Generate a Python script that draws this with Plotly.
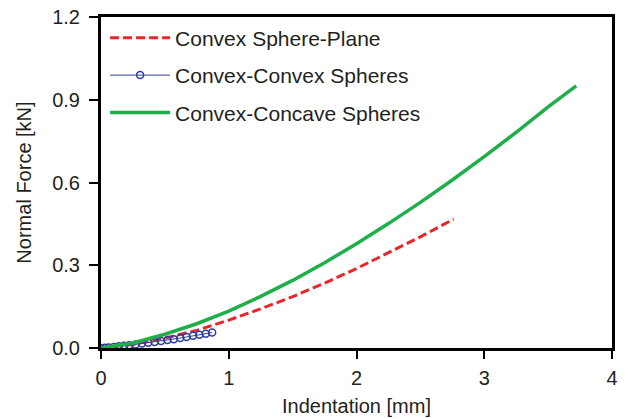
import plotly.graph_objects as go

# Convex sphere-plane (red dashed)
sp_x = [0.0, 0.25, 0.5, 0.75, 1.0, 1.25, 1.5, 1.75, 2.0, 2.25, 2.5, 2.76]
sp_y = [0.0, 0.013, 0.036, 0.064, 0.101, 0.142, 0.186, 0.235, 0.288, 0.344, 0.403, 0.467]

# Convex-convex spheres (blue open circles)
cc_x = [0.0, 0.03, 0.06, 0.1, 0.14, 0.18, 0.22, 0.27, 0.32, 0.37, 0.42, 0.47,
        0.52, 0.57, 0.62, 0.67, 0.72, 0.77, 0.82, 0.87]
cc_y = [0.0, 0.001, 0.002, 0.004, 0.006, 0.008, 0.010, 0.013, 0.016, 0.019, 0.022, 0.025,
        0.029, 0.032, 0.036, 0.040, 0.044, 0.048, 0.052, 0.056]

# Convex-concave spheres (green)
cv_x = [0.0, 0.25, 0.5, 0.75, 1.0, 1.25, 1.5, 1.75, 2.0, 2.25, 2.5, 2.75, 3.0, 3.25, 3.5, 3.72]
cv_y = [0.0, 0.018, 0.050, 0.088, 0.134, 0.187, 0.245, 0.309, 0.378, 0.451, 0.528, 0.609,
        0.694, 0.782, 0.874, 0.950]

x_ticks = [0, 1, 2, 3, 4]
y_ticks = [0.0, 0.3, 0.6, 0.9, 1.2]

FONT = "Liberation Sans, Arial, sans-serif"
TXT = "#231f20"

fig = go.Figure()
fig.add_trace(go.Scatter(x=sp_x, y=sp_y, mode="lines", name="Convex Sphere-Plane",
                         legendgroup="a",
                         line=dict(color="#e8252b", width=3, dash="9px,4px")))
fig.add_trace(go.Scatter(x=cc_x, y=cc_y, mode="lines+markers", name="Convex-Convex Spheres",
                         legendgroup="b",
                         line=dict(color="#2e3e9a", width=1),
                         marker=dict(symbol="circle-open", size=7, color="#2e3e9a",
                                     line=dict(width=1.5, color="#2e3e9a"))))
fig.add_trace(go.Scatter(x=cv_x, y=cv_y, mode="lines", name="Convex-Concave Spheres",
                         legendgroup="c",
                         line=dict(color="#1fae4a", width=3.5)))

axis_common = dict(showline=True, linecolor="black", linewidth=3, mirror=True,
                   ticks="outside", tickcolor="black", tickwidth=1.5,
                   showgrid=False, zeroline=False, automargin=False,
                   tickfont=dict(family=FONT, size=20, color=TXT),
                   title_font=dict(family=FONT, size=20, color=TXT))

fig.update_xaxes(range=[0, 4], tickvals=x_ticks, ticklen=8, ticklabelstandoff=2,
                 title_text="Indentation [mm]", title_standoff=11, **axis_common)
fig.update_yaxes(range=[0, 1.2], tickvals=y_ticks, tickformat=".1f", ticklen=9,
                 ticklabelstandoff=5,
                 title_text="Normal Force [kN]", title_standoff=16, **axis_common)

fig.update_layout(
    width=628, height=419,
    margin=dict(l=101, r=16, t=17, b=71),
    paper_bgcolor="white", plot_bgcolor="white",
    showlegend=True,
    legend=dict(x=0.008, y=0.998, xanchor="left", yanchor="top",
                bgcolor="rgba(0,0,0,0)", borderwidth=0,
                font=dict(family=FONT, size=21, color=TXT),
                itemwidth=60, tracegroupgap=7, traceorder="grouped"),
)

fig.write_html("out.html")
